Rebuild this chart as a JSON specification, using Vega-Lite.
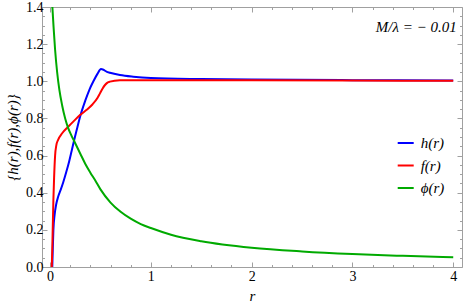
{
  "$schema": "https://vega.github.io/schema/vega-lite/v6.json",
  "width": 420,
  "height": 260,
  "autosize": {"type": "none"},
  "padding": {"left": 42, "top": 7, "right": 2, "bottom": 39},
  "config": {"view": {"stroke": "#a0a0a0", "strokeWidth": 1}, "font": "'Liberation Serif', 'Times New Roman', Times, serif"},
  "datasets": {
    "curves": [
      {"s": "h(r)", "r": 0.022, "v": 0.0},
      {"s": "h(r)", "r": 0.027, "v": 0.1},
      {"s": "h(r)", "r": 0.033, "v": 0.2},
      {"s": "h(r)", "r": 0.045, "v": 0.28},
      {"s": "h(r)", "r": 0.06, "v": 0.335},
      {"s": "h(r)", "r": 0.08, "v": 0.378},
      {"s": "h(r)", "r": 0.105, "v": 0.415},
      {"s": "h(r)", "r": 0.13, "v": 0.455},
      {"s": "h(r)", "r": 0.16, "v": 0.51},
      {"s": "h(r)", "r": 0.19, "v": 0.57},
      {"s": "h(r)", "r": 0.214, "v": 0.625},
      {"s": "h(r)", "r": 0.24, "v": 0.685},
      {"s": "h(r)", "r": 0.27, "v": 0.75},
      {"s": "h(r)", "r": 0.297, "v": 0.808},
      {"s": "h(r)", "r": 0.35, "v": 0.897},
      {"s": "h(r)", "r": 0.389, "v": 0.953},
      {"s": "h(r)", "r": 0.43, "v": 1.0},
      {"s": "h(r)", "r": 0.47, "v": 1.04},
      {"s": "h(r)", "r": 0.505, "v": 1.066},
      {"s": "h(r)", "r": 0.53, "v": 1.062},
      {"s": "h(r)", "r": 0.56, "v": 1.052},
      {"s": "h(r)", "r": 0.594, "v": 1.046},
      {"s": "h(r)", "r": 0.693, "v": 1.034},
      {"s": "h(r)", "r": 0.825, "v": 1.025},
      {"s": "h(r)", "r": 1.0, "v": 1.018},
      {"s": "h(r)", "r": 1.5, "v": 1.012},
      {"s": "h(r)", "r": 2.0, "v": 1.009},
      {"s": "h(r)", "r": 3.0, "v": 1.006},
      {"s": "h(r)", "r": 4.0, "v": 1.004},
      {"s": "f(r)", "r": 0.017, "v": 0.0},
      {"s": "f(r)", "r": 0.022, "v": 0.1},
      {"s": "f(r)", "r": 0.027, "v": 0.22},
      {"s": "f(r)", "r": 0.033, "v": 0.36},
      {"s": "f(r)", "r": 0.04, "v": 0.48},
      {"s": "f(r)", "r": 0.05, "v": 0.6},
      {"s": "f(r)", "r": 0.062, "v": 0.655},
      {"s": "f(r)", "r": 0.08, "v": 0.685},
      {"s": "f(r)", "r": 0.12, "v": 0.72},
      {"s": "f(r)", "r": 0.18, "v": 0.755},
      {"s": "f(r)", "r": 0.24, "v": 0.788},
      {"s": "f(r)", "r": 0.297, "v": 0.818},
      {"s": "f(r)", "r": 0.36, "v": 0.845},
      {"s": "f(r)", "r": 0.42, "v": 0.875},
      {"s": "f(r)", "r": 0.47, "v": 0.91},
      {"s": "f(r)", "r": 0.495, "v": 0.935},
      {"s": "f(r)", "r": 0.52, "v": 0.96},
      {"s": "f(r)", "r": 0.545, "v": 0.98},
      {"s": "f(r)", "r": 0.57, "v": 0.993},
      {"s": "f(r)", "r": 0.594, "v": 0.998},
      {"s": "f(r)", "r": 0.693, "v": 1.005},
      {"s": "f(r)", "r": 0.8, "v": 1.006},
      {"s": "f(r)", "r": 1.0, "v": 1.006},
      {"s": "f(r)", "r": 1.5, "v": 1.005},
      {"s": "f(r)", "r": 2.0, "v": 1.005},
      {"s": "f(r)", "r": 3.0, "v": 1.004},
      {"s": "f(r)", "r": 4.0, "v": 1.003},
      {"s": "ϕ(r)", "r": 0.015, "v": 1.47},
      {"s": "ϕ(r)", "r": 0.023, "v": 1.4},
      {"s": "ϕ(r)", "r": 0.035, "v": 1.29},
      {"s": "ϕ(r)", "r": 0.05, "v": 1.17},
      {"s": "ϕ(r)", "r": 0.07, "v": 1.05},
      {"s": "ϕ(r)", "r": 0.092, "v": 0.955},
      {"s": "ϕ(r)", "r": 0.12, "v": 0.87},
      {"s": "ϕ(r)", "r": 0.15, "v": 0.8},
      {"s": "ϕ(r)", "r": 0.18, "v": 0.748},
      {"s": "ϕ(r)", "r": 0.21, "v": 0.71},
      {"s": "ϕ(r)", "r": 0.245, "v": 0.672},
      {"s": "ϕ(r)", "r": 0.3, "v": 0.61},
      {"s": "ϕ(r)", "r": 0.35, "v": 0.555},
      {"s": "ϕ(r)", "r": 0.4, "v": 0.508},
      {"s": "ϕ(r)", "r": 0.446, "v": 0.468},
      {"s": "ϕ(r)", "r": 0.5, "v": 0.418},
      {"s": "ϕ(r)", "r": 0.6, "v": 0.347},
      {"s": "ϕ(r)", "r": 0.7, "v": 0.297},
      {"s": "ϕ(r)", "r": 0.8, "v": 0.26},
      {"s": "ϕ(r)", "r": 0.9, "v": 0.231},
      {"s": "ϕ(r)", "r": 1.0, "v": 0.21},
      {"s": "ϕ(r)", "r": 1.2, "v": 0.174},
      {"s": "ϕ(r)", "r": 1.5, "v": 0.139},
      {"s": "ϕ(r)", "r": 2.0, "v": 0.104},
      {"s": "ϕ(r)", "r": 2.5, "v": 0.084},
      {"s": "ϕ(r)", "r": 3.0, "v": 0.07},
      {"s": "ϕ(r)", "r": 3.5, "v": 0.06},
      {"s": "ϕ(r)", "r": 4.0, "v": 0.052}
    ],
    "note": [{"r": 4.034, "v": 1.294, "label": "M/λ = − 0.01"}]
  },
  "layer": [
    {
      "data": {"name": "curves"},
      "mark": {"type": "line", "strokeWidth": 2, "interpolate": "monotone", "clip": true},
      "encoding": {
        "x": {
          "field": "r", "type": "quantitative",
          "scale": {"domain": [-0.08, 4.087], "nice": false, "zero": false},
          "axis": {
            "orient": "bottom",
            "values": [0, 0.2, 0.4, 0.6, 0.8, 1, 1.2, 1.4, 1.6, 1.8, 2, 2.2, 2.4, 2.6, 2.8, 3, 3.2, 3.4, 3.6, 3.8, 4],
            "labelExpr": "abs(datum.value - round(datum.value)) < 0.001 ? format(datum.value, 'd') : ''",
            "tickSize": {"condition": {"test": "abs(datum.value - round(datum.value)) < 0.001", "value": -5}, "value": -2.5},
            "tickColor": "#a0a0a0",
            "domain": false, "grid": false,
            "labelFont": "'Liberation Serif', 'Times New Roman', serif", "labelFontSize": 14, "labelColor": "black",
            "labelPadding": 7.5, "labelFlush": false, "labelOverlap": false,
            "title": "r", "titleFont": "'Liberation Serif', 'Times New Roman', serif", "titleFontStyle": "italic",
            "titleFontWeight": "normal", "titleFontSize": 15, "titleColor": "black", "titlePadding": 2
          }
        },
        "y": {
          "field": "v", "type": "quantitative",
          "scale": {"domain": [0, 1.4], "nice": false, "zero": false},
          "axis": {
            "orient": "left",
            "values": [0, 0.05, 0.1, 0.15, 0.2, 0.25, 0.3, 0.35, 0.4, 0.45, 0.5, 0.55, 0.6, 0.65, 0.7, 0.75, 0.8, 0.85, 0.9, 0.95, 1, 1.05, 1.1, 1.15, 1.2, 1.25, 1.3, 1.35, 1.4],
            "labelExpr": "abs(datum.value * 5 - round(datum.value * 5)) < 0.001 ? format(datum.value, '.1f') : ''",
            "tickSize": {"condition": {"test": "abs(datum.value * 5 - round(datum.value * 5)) < 0.001", "value": -5}, "value": -2.5},
            "tickColor": "#a0a0a0",
            "domain": false, "grid": false,
            "labelFont": "'Liberation Serif', 'Times New Roman', serif", "labelFontSize": 14, "labelColor": "black",
            "labelPadding": 4, "labelFlush": false, "labelOverlap": false,
            "title": "{h(r),f(r),ϕ(r)}", "titleFont": "'Liberation Serif', 'Times New Roman', serif", "titleFontStyle": "italic",
            "titleFontWeight": "normal", "titleFontSize": 15, "titleColor": "black", "titlePadding": 5
          }
        },
        "color": {
          "field": "s", "type": "nominal",
          "scale": {"domain": ["h(r)", "f(r)", "ϕ(r)"], "range": ["#0000ff", "#ff0000", "#00aa00"]},
          "legend": {
            "orient": "none", "legendX": 354.7, "legendY": 127,
            "title": null, "symbolType": "stroke", "symbolSize": 256, "symbolStrokeWidth": 2,
            "labelFont": "'Liberation Serif', 'Times New Roman', serif", "labelFontStyle": "italic", "labelFontSize": 15,
            "labelColor": "black", "labelOffset": 6, "rowPadding": 5.5, "padding": 0
          }
        }
      }
    },
    {
      "data": {"name": "note"},
      "mark": {"type": "text", "align": "right", "baseline": "middle", "fontStyle": "italic", "fontSize": 15, "font": "'Liberation Serif', 'Times New Roman', serif", "color": "black"},
      "encoding": {
        "x": {
          "field": "r", "type": "quantitative",
          "axis": {
            "orient": "top",
            "values": [0, 0.2, 0.4, 0.6, 0.8, 1, 1.2, 1.4, 1.6, 1.8, 2, 2.2, 2.4, 2.6, 2.8, 3, 3.2, 3.4, 3.6, 3.8, 4],
            "labels": false,
            "tickSize": {"condition": {"test": "abs(datum.value - round(datum.value)) < 0.001", "value": -5}, "value": -2.5},
            "tickColor": "#a0a0a0", "domain": false, "grid": false, "title": null
          }
        },
        "y": {
          "field": "v", "type": "quantitative",
          "axis": {
            "orient": "right",
            "values": [0, 0.05, 0.1, 0.15, 0.2, 0.25, 0.3, 0.35, 0.4, 0.45, 0.5, 0.55, 0.6, 0.65, 0.7, 0.75, 0.8, 0.85, 0.9, 0.95, 1, 1.05, 1.1, 1.15, 1.2, 1.25, 1.3, 1.35, 1.4],
            "labels": false,
            "tickSize": {"condition": {"test": "abs(datum.value * 5 - round(datum.value * 5)) < 0.001", "value": -5}, "value": -2.5},
            "tickColor": "#a0a0a0", "domain": false, "grid": false, "title": null
          }
        },
        "text": {"field": "label"}
      }
    }
  ],
  "resolve": {"axis": {"x": "independent", "y": "independent"}}
}
